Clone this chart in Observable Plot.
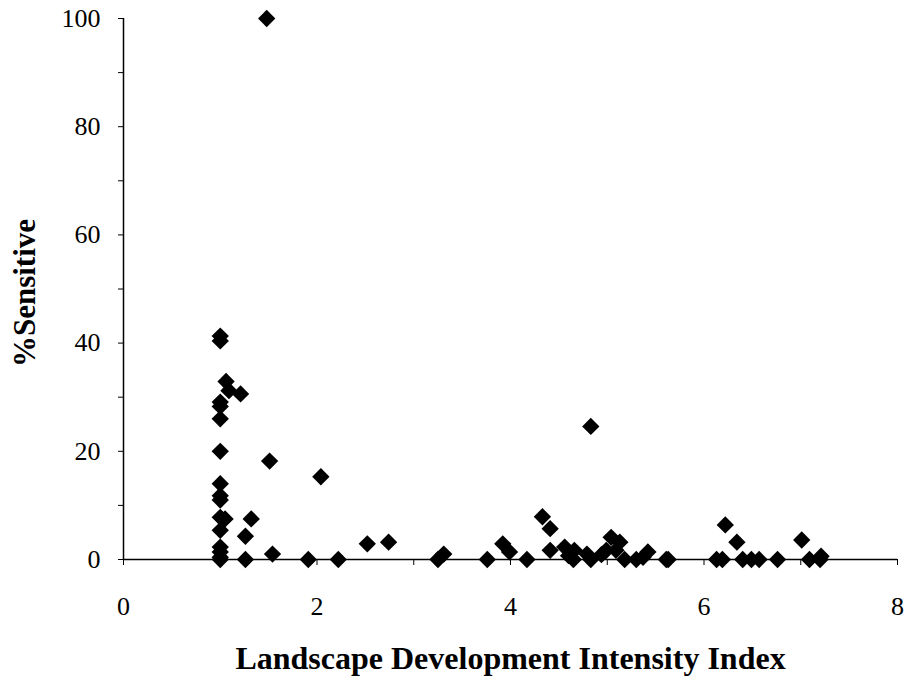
<!DOCTYPE html>
<html>
<head>
<meta charset="utf-8">
<script src="https://cdn.jsdelivr.net/npm/d3@7"></script>
<script src="https://cdn.jsdelivr.net/npm/@observablehq/plot@0.6"></script>
<style>
  html, body { margin: 0; padding: 0; background: white; }
  svg { display: block; }
</style>
</head>
<body>
<script>
// Landscape Development Intensity Index (x) vs %Sensitive (y)
const ldi = [
  1.0, 1.0, 1.0, 1.0, 1.0, 1.0, 1.0, 1.0, 1.0, 1.0, 1.0, 1.0, 1.0, 1.0, 1.0,
  1.05, 1.06, 1.09, 1.21, 1.26, 1.26, 1.32, 1.48, 1.51, 1.54, 1.91,
  2.04, 2.22, 2.52, 2.74, 3.25, 3.31, 3.76, 3.92, 3.99, 4.17,
  4.33, 4.41, 4.41, 4.56, 4.60, 4.65, 4.66, 4.79, 4.83, 4.83,
  4.94, 4.99, 5.04, 5.09, 5.13, 5.18, 5.30, 5.37, 5.42, 5.61, 5.63,
  6.13, 6.19, 6.22, 6.34, 6.40, 6.49, 6.57, 6.76, 7.01, 7.09, 7.20, 7.21
];
const sensitive = [
  41.3, 40.4, 29.1, 28.3, 26.0, 20.0, 14.0, 11.8, 11.0, 7.8, 5.4, 2.3, 1.4, 0.4, 0,
  7.5, 32.9, 31.2, 30.6, 4.3, 0, 7.5, 100, 18.2, 1.0, 0,
  15.3, 0, 2.9, 3.2, 0, 1.0, 0, 2.9, 1.4, 0,
  7.9, 5.7, 1.7, 2.3, 0.7, 0, 1.7, 1.0, 0, 24.6,
  0.9, 1.7, 4.1, 1.7, 3.2, 0, 0, 0.4, 1.4, 0, 0,
  0, 0, 6.4, 3.2, 0, 0, 0, 0, 3.6, 0, 0, 0.6
];
const xTicks = [0, 1, 2, 3, 4, 5, 6, 7, 8];
const xTickLabels = ["0", "", "2", "", "4", "", "6", "", "8"];
const yTicks = [0, 10, 20, 30, 40, 50, 60, 70, 80, 90, 100];
const yTickLabels = ["0", "", "20", "", "40", "", "60", "", "80", "", "100"];
const xTitle = "Landscape Development Intensity Index";
const yTitle = "%Sensitive";

const data = ldi.map((x, i) => ({x, y: sensitive[i]}));

const chart = Plot.plot({
  width: 906,
  height: 677,
  marginLeft: 123,
  marginRight: 9,
  marginTop: 18,
  marginBottom: 118,
  x: {domain: [0, 8]},
  y: {domain: [0, 100]},
  style: {
    fontFamily: "'Liberation Serif', 'Times New Roman', serif",
    fontSize: "26px",
    color: "black",
    background: "white"
  },
  marks: [
    Plot.axisX({
      ticks: xTicks,
      tickFormat: d => xTickLabels[xTicks.indexOf(d)],
      tickSize: 6,
      tickPadding: 31,
      label: null,
      fontSize: 26
    }),
    Plot.axisY({
      ticks: yTicks,
      tickFormat: d => yTickLabels[yTicks.indexOf(d)],
      tickSize: 5,
      tickPadding: 18,
      label: null,
      fontSize: 26
    }),
    Plot.ruleY([0], {stroke: "black", strokeWidth: 1.5}),
    Plot.ruleX([0], {stroke: "black", strokeWidth: 1.5}),
    Plot.dot(data, {x: "x", y: "y", symbol: "diamond2", r: 7.8, fill: "black", stroke: "none"}),
    Plot.text([xTitle], {frameAnchor: "bottom", dy: 109, fontSize: 32, fontWeight: "bold", fill: "black"}),
    Plot.text([yTitle], {frameAnchor: "left", textAnchor: "middle", rotate: -90, dx: -98, dy: 4, fontSize: 31, fontWeight: "bold", fill: "black"})
  ]
});
document.body.appendChild(chart);
</script>
</body>
</html>
